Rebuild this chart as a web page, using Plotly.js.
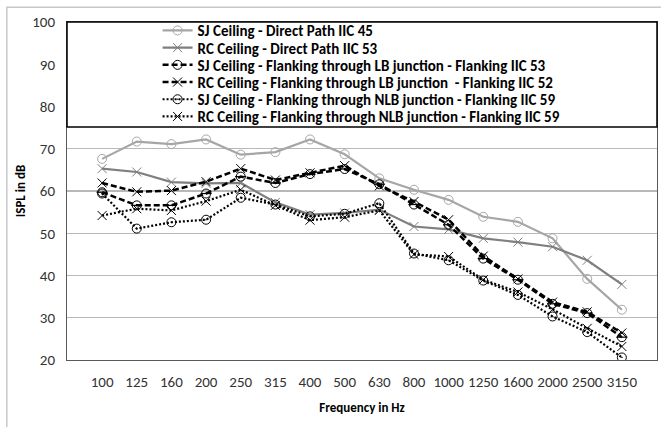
<!DOCTYPE html>
<html>
<head>
<meta charset="utf-8">
<script src="https://cdn.plot.ly/plotly-3.0.1.min.js"></script>
<style>html,body{margin:0;padding:0;background:#fff;}#chart{width:661px;height:427px;}</style>
</head>
<body>
<div id="chart"></div>
<script>
const freqs = ["100","125","160","200","250","315","400","500","630","800","1000","1250","1600","2000","2500","3150"];
const sjDirect = [67.6, 71.7, 71.1, 72.2, 68.6, 69.2, 72.2, 68.7, 63.0, 60.3, 57.9, 53.9, 52.7, 48.8, 39.2, 31.9];
const rcDirect = [65.3, 64.5, 62.1, 61.8, 61.9, 57.3, 54.4, 54.8, 55.6, 51.6, 50.9, 48.8, 47.9, 46.8, 43.6, 37.9];
const sjLB = [59.7, 56.6, 56.6, 59.4, 63.4, 61.9, 64.0, 65.2, 61.6, 56.8, 52.0, 44.0, 39.0, 33.3, 31.1, 25.4];
const rcLB = [61.9, 59.8, 60.1, 62.2, 65.3, 62.6, 64.3, 66.0, 61.2, 57.5, 53.2, 44.6, 39.2, 33.7, 31.4, 26.4];
const sjNLB = [59.4, 51.1, 52.6, 53.2, 58.4, 56.8, 54.0, 54.6, 57.1, 45.2, 43.6, 38.8, 35.4, 30.3, 26.6, 20.6];
const rcNLB = [54.2, 55.8, 55.4, 57.6, 60.3, 56.6, 53.1, 53.8, 55.4, 45.0, 44.5, 39.0, 36.1, 32.0, 27.5, 23.2];
const names = [
  "SJ Ceiling - Direct Path IIC 45",
  "RC Ceiling - Direct Path IIC 53",
  "SJ Ceiling - Flanking through LB junction - Flanking IIC 53",
  "RC Ceiling - Flanking through LB junction  - Flanking IIC 52",
  "SJ Ceiling - Flanking through NLB junction - Flanking IIC 59",
  "RC Ceiling - Flanking through NLB junction - Flanking IIC 59"
];

const FONT = "Carlito, 'Liberation Sans Narrow', 'Open Sans', sans-serif";
const legendIds = ['legend', 'legend2', 'legend3', 'legend4', 'legend5', 'legend6'];

function tr(y, i, color, width, dash, symbol, msize) {
  return {
    x: freqs, y: y, name: names[i], legend: legendIds[i], type: 'scatter', mode: 'lines+markers',
    line: {color: color, width: width, dash: dash},
    marker: {symbol: symbol, size: msize, color: color, line: {color: color, width: 1}},
    hoverinfo: 'skip'
  };
}

const data = [
  tr(sjDirect, 0, '#a6a6a6', 2.2, 'solid', 'circle-open', 9),
  tr(rcDirect, 1, '#7f7f7f', 2.2, 'solid', 'x-thin-open', 9),
  tr(sjLB, 2, '#000000', 2.5, '6px,3px', 'circle-open', 9),
  tr(rcLB, 3, '#000000', 2.5, '6px,3px', 'x-thin-open', 9),
  tr(sjNLB, 4, '#000000', 2.2, '2px,2px', 'circle-open-dot', 9),
  tr(rcNLB, 5, '#000000', 2.2, '2px,2px', 'x-thin-open', 9),
  {x: freqs, y: sjLB, type: 'scatter', mode: 'markers', showlegend: false, hoverinfo: 'skip',
   marker: {symbol: 'line-ew-open', size: 8, color: '#000', line: {color: '#000', width: 1.2}}}
];

const plotTop = 22, plotH = 338;
const rowY0 = 30.7, rowStep = 17.2;

const layout = {
  width: 661, height: 427,
  margin: {l: 67, r: 4, t: 22, b: 67},
  paper_bgcolor: '#ffffff', plot_bgcolor: '#ffffff',
  font: {family: FONT, size: 15, color: '#333333'},
  showlegend: true,
  xaxis: {
    type: 'category', showgrid: false, zeroline: false,
    showline: true, linecolor: '#595959', linewidth: 1, mirror: true,
    ticks: '', ticklabelstandoff: 8,
    tickfont: {family: FONT, size: 15, color: '#333333'},
    title: {text: 'Frequency in Hz', font: {family: FONT, size: 13, color: '#000', weight: 'bold'}, standoff: 12}
  },
  yaxis: {
    range: [20, 100], dtick: 10, tick0: 20,
    showgrid: true, gridcolor: '#b8b8b8', gridwidth: 1.3, zeroline: false,
    showline: true, linecolor: '#595959', linewidth: 1, mirror: true,
    ticks: '', ticklabelstandoff: 8,
    tickfont: {family: FONT, size: 15, color: '#333333'},
    title: {text: 'ISPL in dB', font: {family: FONT, size: 13, color: '#000', weight: 'bold'}, standoff: 3}
  },
  shapes: [
    {type: 'rect', xref: 'paper', yref: 'paper', x0: 0, x1: 1, y0: 0.689, y1: 1,
     fillcolor: '#ffffff', line: {color: '#000000', width: 1.5}, layer: 'above'},
    {type: 'rect', xref: 'paper', yref: 'paper', x0: -0.102, x1: 1.03, y0: -0.22, y1: 1.044,
     fillcolor: 'rgba(0,0,0,0)', line: {color: '#c8c8c8', width: 1.5}, layer: 'below'}
  ]
};

legendIds.forEach(function (id, i) {
  const py = rowY0 + i * rowStep;
  layout[id] = {
    x: 0.1535, y: 1 - (py - plotTop) / plotH, xanchor: 'left', yanchor: 'middle',
    bgcolor: 'rgba(0,0,0,0)', borderwidth: 0,
    font: {family: FONT, size: 15, color: '#000000', weight: 'bold'},
    itemwidth: 30
  };
});

Plotly.newPlot('chart', data, layout, {displayModeBar: false, staticPlot: true});
</script>
</body>
</html>
